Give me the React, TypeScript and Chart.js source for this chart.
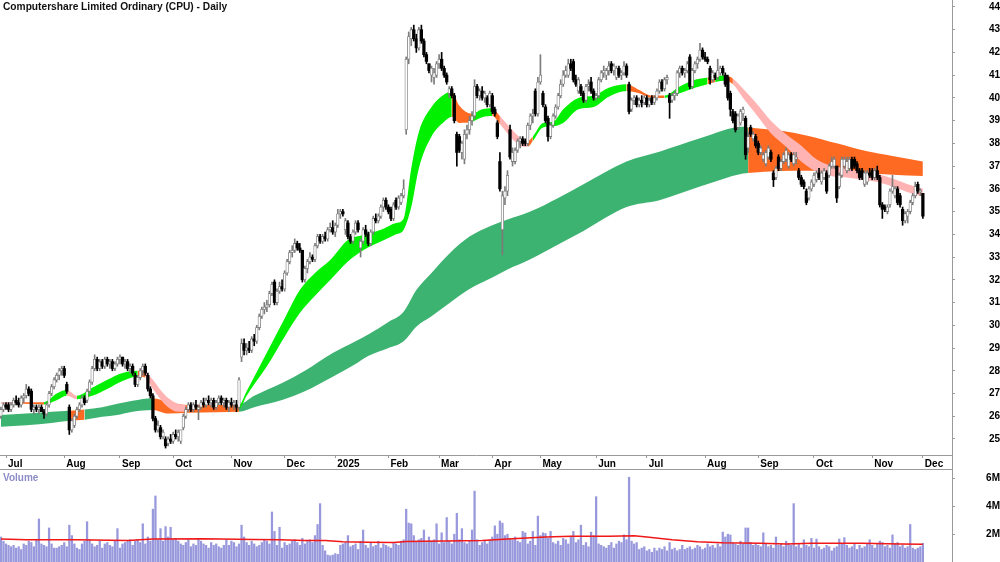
import React, { useEffect, useRef } from "react";
import { Chart, registerables } from "chart.js";

Chart.register(...registerables);

const TITLE = "Computershare Limited Ordinary (CPU) - Daily";
const FONT = "'Liberation Sans', Arial, sans-serif";

// Daily candles [open, high, low, close], 27 Jun 2024 (index 0) .. 1 Dec 2025 (index 364)
const candles: number[][] = [
  [26.0,26.4,25.9,26.3],[26.3,26.6,26.2,26.5],[26.5,26.6,26.3,26.4],[26.5,26.6,26.2,26.3],[26.3,26.6,26.2,26.5],
  [26.5,26.8,26.4,26.7],[26.7,26.9,26.5,26.6],[26.6,26.8,26.4,26.5],[26.5,26.9,26.4,26.8],[26.8,27.0,26.6,26.9],
  [26.9,27.4,26.8,27.2],[27.2,27.3,26.9,27.0],[27.1,27.2,26.2,26.3],[26.3,26.5,26.1,26.4],[26.4,26.5,26.2,26.3],
  [26.3,26.5,26.1,26.4],[26.4,26.5,26.2,26.2],[26.2,26.3,25.9,26.1],[26.1,26.6,26.0,26.5],[26.5,27.1,26.4,27.0],
  [27.0,27.4,26.9,27.3],[27.3,27.7,27.2,27.6],[27.6,27.9,27.5,27.8],[27.8,28.1,27.6,28.0],[28.0,28.2,27.8,28.1],
  [28.1,28.2,27.7,27.8],[27.4,27.5,27.0,27.1],[26.4,26.5,25.2,25.4],[25.4,25.9,25.3,25.8],[25.6,26.1,25.5,26.0],
  [26.0,26.4,25.9,26.3],[26.3,26.6,26.2,26.5],[26.5,26.9,26.4,26.8],[26.8,26.9,26.5,26.6],[26.7,27.2,26.6,27.1],
  [27.1,27.6,27.0,27.5],[27.5,28.2,27.4,28.1],[28.1,28.7,28.0,28.5],[28.5,28.6,28.0,28.1],[28.1,28.5,28.0,28.4],
  [28.4,28.5,28.1,28.2],[28.2,28.6,28.1,28.5],[28.5,28.6,28.2,28.3],[28.3,28.5,28.1,28.4],[28.4,28.5,28.0,28.1],
  [28.1,28.4,28.0,28.3],[28.3,28.6,28.2,28.5],
  [28.5,28.7,28.3,28.6],[28.6,28.6,28.2,28.3],[28.3,28.5,28.1,28.4],[28.4,28.5,28.0,28.1],[28.1,28.3,27.9,28.2],
  [28.2,28.3,27.8,27.9],[27.8,27.9,27.3,27.4],[27.4,27.8,27.3,27.7],[27.7,28.1,27.6,28.0],[28.0,28.3,27.8,28.2],
  [28.2,28.3,27.8,27.9],[27.8,27.9,27.1,27.2],[27.2,27.3,26.8,26.9],[26.9,27.0,25.8,25.9],[25.9,26.0,25.3,25.4],
  [25.4,25.8,25.3,25.6],[25.5,25.6,25.0,25.1],[25.1,25.4,25.0,25.3],[25.0,25.1,24.6,24.7],[24.8,25.1,24.7,25.0],
  [25.0,25.2,24.8,24.9],
  [24.9,25.3,24.8,25.2],[25.2,25.4,25.0,25.1],[25.1,25.4,24.9,25.3],[24.9,25.4,24.8,25.4],[25.5,26.1,25.4,26.0],
  [26.0,26.4,25.9,26.3],[26.3,26.6,26.2,26.5],[26.5,26.6,26.2,26.3],[26.3,26.6,26.2,26.5],[26.5,26.7,26.3,26.4],
  [26.3,26.5,25.85,26.4],[26.4,26.7,26.3,26.6],[26.6,26.8,26.4,26.5],[26.5,26.8,26.4,26.7],[26.7,26.9,26.5,26.6],
  [26.6,26.8,26.4,26.7],[26.7,26.8,26.3,26.4],[26.4,26.7,26.3,26.6],[26.6,26.9,26.5,26.8],[26.8,26.9,26.5,26.6],
  [26.6,26.8,26.4,26.7],[26.7,26.8,26.3,26.4],[26.4,26.7,26.2,26.6],
  [26.6,26.8,26.4,26.5],[26.5,26.7,26.3,26.6],[26.5,26.7,26.2,26.4],[26.4,27.7,26.3,27.6],[28.6,29.4,28.4,29.2],
  [29.2,29.4,28.7,28.9],[28.9,29.2,28.7,29.0],[29.0,29.3,28.8,28.9],[28.9,29.5,28.8,29.4],[29.4,29.6,29.1,29.3],
  [29.3,30.0,29.2,29.9],[29.9,30.5,29.8,30.4],[30.4,30.8,30.3,30.7],[30.7,31.0,30.5,30.8],[30.8,31.1,30.6,30.9],
  [30.9,31.5,30.8,31.4],[31.4,31.9,31.3,31.8],[31.9,32.0,30.9,31.0],[31.0,31.6,30.9,31.5],[31.5,31.9,31.4,31.7],
  [31.7,32.0,31.5,31.6],
  [31.6,32.4,31.5,32.3],[32.3,32.9,32.2,32.8],[32.8,33.3,32.7,33.2],[33.2,33.5,33.0,33.3],[33.3,33.8,33.2,33.6],
  [33.6,33.7,33.3,33.4],[33.4,33.6,33.2,33.3],[33.3,33.3,31.9,32.0],[32.0,32.6,31.9,32.5],[32.5,32.9,32.3,32.8],
  [32.8,33.2,32.7,33.0],[33.0,33.1,32.8,32.9],[32.9,33.6,32.8,33.5],[33.5,34.0,33.4,33.9],[33.9,34.0,33.6,33.7],
  [33.7,34.0,33.6,33.9],[33.9,34.1,33.7,33.8],[33.8,34.3,33.7,34.2],[34.2,34.5,34.1,34.3],[34.3,34.6,34.0,34.1],
  [34.1,34.5,33.9,34.4],[34.4,35.1,34.3,34.9],[34.9,35.1,34.7,35.0],[35.0,35.1,34.8,34.9],[34.2,34.7,34.0,34.6],
  [34.5,34.6,33.8,33.9],[33.9,34.0,33.6,33.7],[33.7,34.2,33.6,34.1],[34.1,34.6,34.0,34.5],[34.5,34.6,34.1,34.2],
  [33.4,33.8,33.0,33.7],[33.7,34.3,33.6,34.2],[34.2,34.4,33.9,34.0],[34.0,34.1,33.5,33.6],[33.6,34.2,33.5,34.1],
  [34.1,34.8,34.0,34.7],[34.7,34.9,34.5,34.6],[34.6,34.9,34.5,34.8],[34.8,35.3,34.7,35.2],[35.2,35.6,35.0,35.5],
  [35.5,35.6,35.1,35.2],
  [35.2,35.3,34.9,35.0],[35.1,35.2,34.6,34.7],[34.7,35.4,34.6,35.3],[35.5,35.6,35.1,35.2],[35.2,35.7,35.1,35.6],
  [35.4,35.8,35.3,35.7],[35.7,36.4,35.6,36.0],[38.6,41.8,38.4,41.7],[41.7,42.9,41.5,42.7],[42.6,43.1,42.3,43.0],
  [43.0,43.2,42.5,42.6],[42.6,42.8,42.0,42.2],[42.2,43.1,42.1,43.0],[43.0,43.2,42.4,42.5],[42.5,42.6,41.8,41.9],
  [41.9,42.0,41.5,41.6],[41.5,41.5,41.1,41.2],[41.0,41.4,40.7,41.3],[40.9,41.3,40.6,41.1],[41.0,41.6,40.9,41.5],
  [41.5,41.9,41.3,41.7],[41.7,42.0,41.2,41.3],[41.3,41.4,40.9,41.0],[41.0,41.1,40.6,40.7],[40.2,40.5,40.0,40.4],
  [40.4,40.5,40.0,40.1],[40.1,40.2,38.9,39.0],[38.4,38.5,37.0,37.6],[38.3,38.4,37.6,37.7],[37.6,38.1,37.3,38.0],
  [37.3,38.6,37.1,38.4],[38.4,38.8,38.2,38.6],[38.6,39.2,38.4,39.0],[39.0,39.4,38.8,39.2],[39.2,40.8,39.1,40.5],
  [40.5,40.6,40.0,40.1],[40.1,40.4,39.9,40.3],[40.3,40.5,39.9,40.0],[40.0,40.3,39.8,40.2],[40.0,40.1,39.6,39.7],
  [39.7,40.3,39.6,40.2],
  [40.1,40.2,39.3,39.4],[39.5,39.6,39.2,39.3],[38.9,39.0,38.2,38.3],[37.2,37.6,35.9,36.0],[34.2,35.9,33.1,35.7],
  [35.6,36.1,35.3,35.9],[35.9,36.8,35.7,36.6],[38.6,38.8,37.3,37.4],[37.2,37.8,37.0,37.6],[37.2,37.8,37.1,37.7],
  [37.7,38.2,37.6,38.1],[38.1,38.3,37.8,38.2],[38.2,38.3,37.9,38.0],[38.1,38.2,37.9,38.0],[38.0,38.9,37.9,38.8],
  [38.8,39.3,38.6,39.2],[39.2,39.5,38.9,39.3],[40.3,40.4,39.2,39.3],[39.3,40.9,39.2,40.7],
  [40.7,41.9,40.6,41.0],[40.2,40.3,39.6,39.7],[39.6,39.7,38.9,39.0],[39.1,39.2,38.1,38.3],[38.3,38.9,38.2,38.8],
  [38.8,39.3,38.7,39.2],[39.2,39.7,39.1,39.6],[39.6,40.2,39.5,40.1],[40.1,40.8,40.0,40.6],[40.6,41.2,40.5,41.0],
  [41.0,41.4,40.9,41.2],[41.0,41.7,40.9,41.5],[41.5,41.7,41.2,41.3],[41.6,41.7,40.7,40.8],[40.8,41.0,40.5,40.6],
  [40.3,40.9,40.2,40.8],[40.5,40.6,40.1,40.2],[40.2,40.3,39.8,39.9],[39.9,40.6,39.8,40.5],[40.5,40.8,40.3,40.6],
  [40.7,40.9,40.2,40.3],[40.3,40.4,39.9,40.0],
  [40.0,40.2,39.9,40.1],[40.1,40.9,40.0,40.8],[40.8,41.2,40.7,41.1],[41.1,41.4,40.9,41.2],[41.0,41.3,40.8,41.2],
  [41.2,41.6,41.0,41.4],[41.5,41.6,41.1,41.2],[41.2,41.5,41.0,41.4],[40.9,41.4,40.8,41.3],[41.3,41.4,40.9,41.0],
  [41.0,41.2,40.8,41.1],[41.1,41.6,41.0,41.4],[41.4,41.5,40.9,41.0],[40.6,40.7,39.3,39.4],[39.5,40.0,39.4,39.9],
  [39.9,40.1,39.7,40.0],[40.0,40.1,39.6,39.7],[39.7,40.0,39.6,39.9],[39.9,40.1,39.6,39.8],[39.8,40.1,39.7,40.0],
  [40.0,40.1,39.6,39.7],[39.7,40.0,39.6,39.9],[40.0,40.1,39.7,39.8],[39.8,40.1,39.7,40.0],[40.0,40.4,39.9,40.3],
  [40.3,40.8,40.2,40.7],[40.7,40.8,40.3,40.4],[40.4,40.9,40.3,40.8],[40.8,41.0,40.6,40.9],[40.1,40.2,39.1,39.8],
  [39.9,40.2,39.8,40.1],[40.1,40.3,39.9,40.2],[40.2,41.2,40.1,41.1],[41.1,41.4,40.9,41.3],[41.3,41.4,41.0,41.1],
  [41.1,41.3,40.9,41.2],[41.2,41.6,41.1,41.5],[41.8,41.9,40.4,40.5],[40.5,41.3,40.4,41.2],[41.2,41.6,41.1,41.5],
  [41.5,41.8,41.3,41.7],[41.7,42.4,41.6,42.1],[42.1,42.2,41.7,41.8],
  [41.8,42.0,41.6,41.7],[41.7,41.8,41.5,41.6],[41.3,41.4,40.6,40.8],[40.8,41.2,40.7,41.1],[41.0,41.1,40.8,40.9],
  [40.9,41.7,40.8,41.2],[41.1,41.4,41.0,41.3],[41.3,41.4,41.0,41.1],[41.0,41.1,40.5,40.6],[40.9,41.0,39.9,40.0],
  [40.2,40.3,39.2,39.5],[39.4,39.5,38.9,39.0],[39.3,39.4,38.5,38.6],[38.7,39.3,38.6,39.2],[38.9,39.5,38.8,39.4],
  [39.3,39.6,39.0,39.5],[39.1,39.2,37.3,37.5],[37.8,38.5,37.6,38.3],[38.7,38.8,38.3,38.4],[38.2,38.5,38.1,38.4],
  [38.3,38.4,37.8,37.9],
  [38.0,38.1,37.5,37.6],[37.6,37.9,37.5,37.8],[37.3,37.6,37.2,37.5],[37.1,37.7,37.0,37.6],[37.4,37.9,37.3,37.8],
  [37.6,37.7,37.2,37.3],[36.7,36.8,36.1,36.4],[36.5,37.0,36.4,36.9],[37.4,37.5,36.8,36.9],[36.9,37.3,36.8,37.2],
  [37.2,37.6,37.1,37.5],[37.3,37.8,37.2,37.7],[37.0,37.6,36.9,37.5],[37.5,37.6,37.2,37.3],[37.1,37.6,37.0,37.5],
  [37.3,37.6,37.1,37.4],[36.8,36.9,36.4,36.5],[36.5,36.6,36.1,36.2],[36.3,36.4,36.0,36.1],[35.9,36.0,35.3,35.4],
  [35.6,36.1,35.5,36.0],[36.0,36.4,35.9,36.3],
  [36.2,36.7,36.1,36.6],[36.4,36.8,36.3,36.7],[36.7,36.9,36.4,36.5],[36.3,36.8,36.2,36.7],[36.5,36.9,36.4,36.8],
  [36.7,36.8,35.8,35.9],[36.6,37.1,36.5,37.0],[37.0,37.4,36.9,37.2],[37.0,37.4,36.9,37.3],[37.0,37.0,35.4,35.6],
  [36.1,36.7,36.0,36.6],[36.6,37.4,36.5,37.3],[37.0,37.4,36.9,37.3],[36.8,37.4,36.7,37.2],[36.9,37.4,36.8,37.3],
  [37.3,37.4,36.8,36.9],[37.3,37.4,36.9,37.0],[37.1,37.2,36.7,36.8],[36.8,36.9,36.4,36.5],[36.8,36.9,36.4,36.5],
  [36.2,36.8,36.1,36.7],[36.3,36.8,36.2,36.7],[36.7,36.9,36.5,36.6],
  [36.8,36.9,36.4,36.5],[36.5,36.9,36.4,36.8],[36.8,37.0,36.4,36.5],[36.5,36.6,35.2,35.3],[35.3,35.4,34.7,35.1],
  [35.2,35.3,35.0,35.1],[35.0,35.3,34.9,35.2],[35.3,36.0,35.2,35.9],[35.9,36.6,35.8,36.1],[35.7,36.1,35.6,36.0],
  [36.0,36.1,35.3,35.4],[35.7,35.8,35.2,35.3],[35.1,35.2,34.4,34.6],[34.6,35.0,34.5,34.9],[34.8,35.1,34.5,35.0],
  [35.0,35.5,34.9,35.4],[35.4,35.8,35.3,35.7],[35.7,36.3,35.6,36.1],[36.2,36.3,35.8,35.9],[35.9,36.0,35.7,35.9],
  [35.8,35.8,34.7,34.8]
];

// Daily volume, millions of shares
const volumes: number[] = [
  1.8,1.5,1.3,1.2,1.1,1.2,1.0,1.1,0.9,1.3, 1.2,1.5,1.4,1.1,1.6,3.1,1.3,1.2,1.1,2.45,
  1.3,1.0,1.0,1.1,1.2,1.4,1.1,2.65,1.9,1.3, 1.0,0.9,1.3,1.5,2.9,1.6,1.3,1.1,1.2,1.5,
  1.0,1.3,1.4,1.2,1.1,1.5,2.4,1.0,1.3,1.4, 1.5,1.6,1.2,1.5,1.6,1.4,2.75,1.3,1.8,1.5,
  3.8,4.75,1.6,2.4,1.5,2.55,1.8,2.5,1.6,1.7, 1.5,1.3,1.2,1.4,1.6,1.1,1.3,1.2,1.7,1.5,
  1.3,1.2,1.0,1.4,1.2,1.3,1.1,1.0,1.2,1.6, 1.2,1.5,1.4,1.1,1.3,2.65,1.8,1.4,1.2,1.5,
  1.3,1.1,1.2,1.4,1.6,1.5,1.3,3.6,2.2,1.2, 2.5,1.0,1.4,1.2,1.3,1.5,1.6,1.4,1.2,1.7,
  1.3,1.5,1.6,1.4,1.9,2.7,4.2,1.2,0.8,0.5, 0.45,0.5,0.6,0.55,1.2,1.3,1.4,1.9,1.1,1.2,
  1.3,0.9,1.5,2.3,1.2,1.0,1.4,1.1,1.2,1.5, 1.0,1.3,1.2,1.1,1.0,1.4,1.3,1.2,1.5,1.6,
  3.8,2.8,2.75,1.9,1.5,1.6,1.7,2.3,1.4,1.8, 1.5,1.6,2.75,1.3,2.1,1.4,3.2,1.5,1.3,2.0,
  3.5,1.6,2.4,1.4,1.3,1.5,2.3,5.1,1.6,1.2, 1.4,1.5,1.3,1.6,1.8,2.6,2.0,2.95,2.8,1.9,
  2.0,1.7,1.6,1.8,1.5,1.4,2.2,2.1,1.3,1.5, 2.2,1.2,3.3,1.9,2.1,2.05,1.7,2.2,1.4,1.3,
  1.5,1.2,1.7,1.6,1.3,1.8,2.2,1.4,1.6,2.65, 1.2,1.4,1.1,2.15,1.9,4.7,1.3,1.2,1.1,1.0,
  1.2,1.4,1.0,1.3,1.5,1.4,1.95,1.6,6.1,1.5, 1.3,1.4,0.9,1.0,1.1,0.8,0.9,0.7,1.0,0.8,
  1.0,0.9,1.1,0.8,1.4,0.9,1.0,0.8,0.9,1.2, 0.9,1.0,1.1,0.9,1.0,1.2,1.1,0.9,1.0,1.3,
  1.1,1.2,1.0,1.3,1.1,2.15,1.8,2.0,1.95,1.4, 1.3,1.2,1.5,1.3,2.45,2.45,1.4,1.2,1.3,1.2,
  1.1,2.1,1.3,1.1,1.2,1.0,1.8,1.2,1.3,1.1, 1.5,1.3,1.2,4.2,1.1,1.3,1.0,1.6,1.2,1.1,
  1.7,1.0,1.65,1.1,0.9,1.0,1.2,1.1,0.8,1.0, 1.1,1.65,1.3,1.75,1.2,1.0,1.1,1.3,0.9,1.2,
  1.0,1.1,1.3,1.6,1.2,1.0,1.3,1.5,1.4,1.1, 1.2,1.0,1.95,1.3,1.4,1.1,1.2,1.0,1.1,2.7,
  1.0,0.9,1.0,1.1,1.35
];

// Volume moving average (millions), sampled at trading-day indices
const volumeAvgIdx = [0,10,30,50,60,80,100,110,120,128,135,145,155,160,175,190,200,215,225,240,250,255,265,275,285,300,310,320,340,355,364];
const volumeAvg = [1.65,1.6,1.6,1.55,1.65,1.68,1.62,1.6,1.55,1.55,1.45,1.42,1.4,1.48,1.52,1.55,1.65,1.8,1.85,1.85,1.88,1.8,1.6,1.45,1.38,1.35,1.3,1.35,1.35,1.3,1.28];

// Month axis: first trading day index of each month and label
const monthTickIdx = [2,25,47,68,91,112,132,153,173,194,213,235,255,278,299,321,344,364];
const monthTickLabels = ["Jul","Aug","Sep","Oct","Nov","Dec","2025","Feb","Mar","Apr","May","Jun","Jul","Aug","Sep","Oct","Nov","Dec"];

const priceTicks = [25,26,27,28,29,30,31,32,33,34,35,36,37,38,39,40,41,42,43,44];
const volumeTicks = [2,4,6];

// Short-term moving-average ribbon (upper / lower edge), state: G up, O turning, P down
const shortBandIdx = [0,8,17,22,26,30,36,42,48,54,57,60,63,66,70,73,94,97,105,112,118,124,130,137,143,150,156,159,162,165,170,175,178,181,186,190,194,197,201,205,208,210,214,218,222,228,234,240,247,252,257,262,268,274,279,282,286,289,293,298,304,310,316,322,328,334,340,346,352,358,364];
const shortBandUpper = [26.62,26.62,26.62,27.0,27.15,26.9,27.25,27.6,27.9,28.0,27.95,27.6,27.15,26.8,26.55,26.5,26.5,27.1,28.8,30.3,31.55,32.3,32.87,33.75,33.97,34.2,34.5,34.7,36.9,38.5,39.6,40.15,40.27,39.65,39.3,39.5,39.55,39.2,38.7,38.25,38.1,38.3,38.9,38.95,39.5,40.0,40.1,40.45,40.6,40.35,40.1,40.1,40.5,40.8,40.9,40.95,41.0,40.85,40.4,39.8,39.0,38.4,37.9,37.3,37.0,36.9,36.75,36.65,36.45,36.2,36.0];
const shortBandLower = [26.55,26.55,26.52,26.7,26.9,26.75,26.9,27.2,27.55,27.75,27.7,27.2,26.75,26.4,26.2,26.2,26.3,26.9,28.2,29.5,30.54,31.3,31.99,32.8,33.3,33.68,34.0,34.2,35.2,36.9,38.3,38.95,39.17,38.9,38.95,39.15,39.2,38.85,38.3,37.9,37.85,38.1,38.7,38.75,38.9,39.5,39.6,40.05,40.3,40.2,40.0,40.0,40.2,40.45,40.6,40.7,40.75,40.6,40.0,39.3,38.45,37.85,37.2,36.75,36.55,36.5,36.4,36.3,36.1,35.85,35.65];
const shortBandState = ["P","O","G","G","P","G","G","G","G","O","P","P","P","P","P","O","G","G","G","G","G","G","G","G","G","G","G","G","G","G","G","G","O","O","G","G","O","P","P","P","O","G","G","G","G","G","G","G","O","O","O","G","G","G","O","G","O","P","P","P","P","P","P","P","P","P","P","P","P","P","P"];

// Long-term moving-average ribbon, state: D up, O down
const longBandIdx = [0,10,20,27,33,40,46,52,60,66,74,85,94,100,111,120,131,140,145,153,159,164,170,177,185,194,200,209,220,230,247,260,276,293,295,308,318,330,342,352,364];
const longBandUpper = [26.06,26.12,26.2,26.24,26.3,26.4,26.55,26.68,26.79,26.62,26.5,26.5,26.52,26.9,27.46,28.0,28.78,29.3,29.6,30.15,30.6,31.55,32.3,33.15,33.9,34.4,34.65,35.0,35.6,36.2,37.2,37.63,38.22,38.73,38.7,38.55,38.35,38.0,37.65,37.45,37.2];
const longBandLower = [25.54,25.6,25.7,25.8,25.85,25.98,26.06,26.2,26.28,26.12,26.15,26.18,26.2,26.4,26.71,27.1,27.74,28.3,28.65,29.0,29.3,29.94,30.4,30.97,31.6,32.1,32.45,32.9,33.55,34.15,35.2,35.5,36.1,36.68,36.7,36.78,36.8,36.78,36.7,36.62,36.57];
const longBandState = ["D","D","D","O","D","D","D","D","O","O","O","O","D","D","D","D","D","D","D","D","D","D","D","D","D","D","D","D","D","D","D","D","D","D","O","O","O","O","O","O","O"];

const BAND_COLORS: Record<string, string> = {
  G: "#00f000",
  O: "#ff6a22",
  P: "#ffb3b3",
  D: "#3cb371",
};

const X_MIN = -0.37;
const X_MAX = 375.5;
const AXIS_GREY = "#9a9a9a";
const TICK_FONT = { family: FONT, size: 10, weight: "bold" as const };

function pts(idx: number[], vals: number[]) {
  return idx.map((x, i) => ({ x, y: vals[i] }));
}

function bandDatasets(idx: number[], upper: number[], lower: number[], state: string[], order: number) {
  return [
    {
      type: "line" as const,
      data: pts(idx, upper),
      fill: "+1",
      borderWidth: 0,
      borderColor: "rgba(0,0,0,0)",
      backgroundColor: BAND_COLORS[state[0]],
      pointRadius: 0,
      cubicInterpolationMode: "monotone" as const,
      segment: {
        backgroundColor: (ctx: any) => BAND_COLORS[state[ctx.p0DataIndex]],
      },
      order,
    },
    {
      type: "line" as const,
      data: pts(idx, lower),
      fill: false,
      borderWidth: 0,
      borderColor: "rgba(0,0,0,0)",
      pointRadius: 0,
      cubicInterpolationMode: "monotone" as const,
      order: order + 1,
    },
  ];
}

function yAxisFit(width: number) {
  return (s: any) => {
    s.width = width;
    s.paddingTop = 0;
    s.paddingBottom = 0;
  };
}

function priceConfig(): any {
  const up = candles.map((c) => c[3] >= c[0]);
  const wickData = candles.map((c, i) => ({ x: i, y: [c[2], c[1]] }));
  const bodyData = candles.map((c, i) => {
    let lo = Math.min(c[0], c[3]);
    let hi = Math.max(c[0], c[3]);
    if (hi - lo < 0.05) {
      lo -= 0.025;
      hi += 0.025;
    }
    return { x: i, y: [lo, hi] };
  });
  return {
    type: "line",
    data: {
      datasets: [
        ...bandDatasets(shortBandIdx, shortBandUpper, shortBandLower, shortBandState, 3),
        ...bandDatasets(longBandIdx, longBandUpper, longBandLower, longBandState, 5),
        {
          type: "bar",
          data: wickData,
          grouped: false,
          barThickness: 1,
          maxBarThickness: 1,
          backgroundColor: up.map((u) => (u ? "#7c7c7c" : "#000000")),
          borderWidth: 0,
          order: 1,
        },
        {
          type: "bar",
          data: bodyData,
          grouped: false,
          barThickness: 2.6,
          maxBarThickness: 2.6,
          backgroundColor: up.map((u) => (u ? "#ffffff" : "#000000")),
          borderColor: up.map((u) => (u ? "#7c7c7c" : "#000000")),
          borderWidth: up.map((u) => (u ? 0.8 : 0)),
          borderSkipped: false,
          order: 0,
        },
      ],
    },
    options: {
      responsive: false,
      maintainAspectRatio: false,
      animation: false,
      devicePixelRatio: 1,
      events: [],
      layout: { padding: 0 },
      plugins: { legend: { display: false }, tooltip: { enabled: false }, title: { display: false } },
      scales: {
        x: {
          type: "linear",
          min: X_MIN,
          max: X_MAX,
          offset: false,
          position: "bottom",
          grid: { display: true, drawOnChartArea: false, drawTicks: true, tickLength: 3, color: AXIS_GREY, offset: false },
          border: { display: true, color: AXIS_GREY, width: 1 },
          ticks: {
            autoSkip: false,
            maxRotation: 0,
            minRotation: 0,
            align: "start",
            labelOffset: 2,
            padding: 0,
            color: "#000",
            font: TICK_FONT,
            callback: (_v: any, i: number) => monthTickLabels[i],
          },
          afterBuildTicks: (s: any) => {
            s.ticks = monthTickIdx.map((v) => ({ value: v }));
          },
          afterFit: (s: any) => {
            s.height = 15;
            s.paddingLeft = 0;
            s.paddingRight = 0;
          },
        },
        y: {
          type: "linear",
          position: "right",
          min: 24.296,
          max: 44.305,
          grid: { display: true, drawOnChartArea: false, drawTicks: true, tickLength: 3, color: AXIS_GREY },
          border: { display: false },
          ticks: {
            crossAlign: "far",
            padding: 32,
            color: "#000",
            font: TICK_FONT,
            callback: (v: any) => String(v),
          },
          afterBuildTicks: (s: any) => {
            s.ticks = priceTicks.map((v) => ({ value: v }));
          },
          afterFit: yAxisFit(48),
        },
      },
    },
  };
}

function volumeConfig(): any {
  return {
    type: "line",
    data: {
      datasets: [
        {
          type: "line",
          data: pts(volumeAvgIdx, volumeAvg),
          borderColor: "#f01818",
          borderWidth: 1.5,
          pointRadius: 0,
          fill: false,
          order: 0,
        },
        {
          type: "bar",
          data: volumes.map((v, i) => ({ x: i, y: v })),
          grouped: false,
          barThickness: 1.6,
          maxBarThickness: 1.6,
          backgroundColor: "#9898dc",
          borderWidth: 0,
          order: 1,
        },
      ],
    },
    options: {
      responsive: false,
      maintainAspectRatio: false,
      animation: false,
      devicePixelRatio: 1,
      events: [],
      layout: { padding: 0 },
      plugins: { legend: { display: false }, tooltip: { enabled: false }, title: { display: false } },
      scales: {
        x: {
          type: "linear",
          min: X_MIN,
          max: X_MAX,
          offset: false,
          display: false,
        },
        y: {
          type: "linear",
          position: "right",
          min: 0,
          max: 6.62,
          grid: { display: true, drawOnChartArea: false, drawTicks: true, tickLength: 3, color: AXIS_GREY },
          border: { display: false },
          ticks: {
            crossAlign: "far",
            padding: 29,
            color: "#000",
            font: TICK_FONT,
            callback: (v: any) => `${v}M`,
          },
          afterBuildTicks: (s: any) => {
            s.ticks = volumeTicks.map((v) => ({ value: v }));
          },
          afterFit: yAxisFit(48),
        },
      },
    },
  };
}

export default function App() {
  const priceRef = useRef<HTMLCanvasElement | null>(null);
  const volRef = useRef<HTMLCanvasElement | null>(null);

  useEffect(() => {
    const c1 = new Chart(priceRef.current as HTMLCanvasElement, priceConfig());
    const c2 = new Chart(volRef.current as HTMLCanvasElement, volumeConfig());
    return () => {
      c1.destroy();
      c2.destroy();
    };
  }, []);

  return (
    <div
      style={{
        position: "fixed",
        left: 0,
        top: 0,
        width: 1000,
        height: 562,
        background: "#ffffff",
        overflow: "hidden",
      }}
    >
      <canvas ref={priceRef} width={1000} height={470} style={{ position: "absolute", left: 0, top: 0 }} />
      <canvas ref={volRef} width={1000} height={92} style={{ position: "absolute", left: 0, top: 470 }} />
      <div style={{ position: "absolute", left: 952, top: 0, width: 1, height: 562, background: AXIS_GREY }} />
      <div style={{ position: "absolute", left: 0, top: 469, width: 952, height: 1, background: AXIS_GREY }} />
      <div
        style={{
          position: "absolute",
          left: 3,
          top: 1,
          font: `bold 10.2px ${FONT}`,
          color: "#111",
          whiteSpace: "nowrap",
        }}
      >
        {TITLE}
      </div>
      <div
        style={{
          position: "absolute",
          left: 3,
          top: 472,
          font: `bold 10px ${FONT}`,
          color: "#8c8cc8",
          whiteSpace: "nowrap",
        }}
      >
        Volume
      </div>
    </div>
  );
}
